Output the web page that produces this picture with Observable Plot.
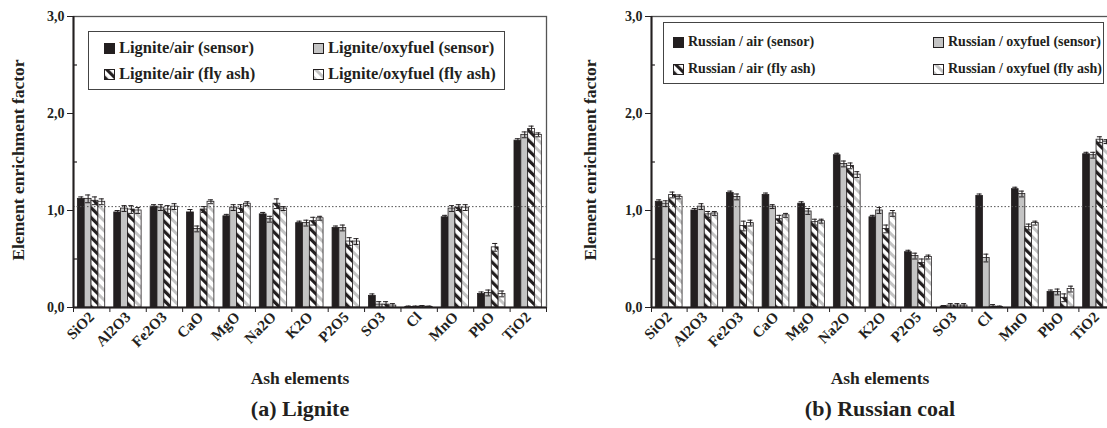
<!DOCTYPE html>
<html><head><meta charset="utf-8">
<script src="https://cdn.jsdelivr.net/npm/d3@7"></script>
<script src="https://cdn.jsdelivr.net/npm/@observablehq/plot@0.6"></script>
<style>
html,body{margin:0;padding:0;background:#fff;}
body{width:1107px;height:428px;overflow:hidden;position:relative;font-family:"Liberation Serif","Times New Roman",serif;font-weight:bold;color:#231f20;}
.panel{position:absolute;top:0;}
.panel svg{max-width:none !important;}
.ylab{position:absolute;font-size:17.5px;white-space:nowrap;transform:translate(-50%,-50%) rotate(-90deg);}
.xlab{position:absolute;font-size:17.5px;white-space:nowrap;transform:translate(-50%,-50%);}
.cap{position:absolute;font-size:22px;white-space:nowrap;transform:translate(-50%,-50%);}
.legend{position:absolute;border:1.3px solid #444;background:#fff;box-sizing:border-box;}
.item{position:absolute;white-space:nowrap;display:flex;align-items:center;transform:translateY(-50%);}
.item svg{margin-right:4px;}
</style></head><body>
<svg width="0" height="0" style="position:absolute">
<defs>
<pattern id="hatchBlack" patternUnits="userSpaceOnUse" width="7" height="7" patternTransform="rotate(-45)">
<rect width="7" height="7" fill="#fff"/><rect width="3.2" height="7" fill="#231f20"/>
</pattern>
<pattern id="hatchGray" patternUnits="userSpaceOnUse" width="7" height="7" patternTransform="rotate(-45)">
<rect width="7" height="7" fill="#fff"/><rect width="3" height="7" fill="#c4c4c4"/>
</pattern>
</defs></svg>
<script>
// ---------- data ----------
const categories = ["SiO2","Al2O3","Fe2O3","CaO","MgO","Na2O","K2O","P2O5","SO3","Cl","MnO","PbO","TiO2"];
const yTicks = [0, 1, 2, 3];
const minorTicks = [0.5, 1.5, 2.5];
const referenceLevel = [1.04];

const ligniteLabels = ["Lignite/air (sensor)", "Lignite/oxyfuel (sensor)", "Lignite/air (fly ash)", "Lignite/oxyfuel (fly ash)"];
const ligAirSensor = [1.12,0.98,1.04,0.98,0.94,0.96,0.87,0.82,0.12,0.005,0.93,0.14,1.72];
const ligOxySensor = [1.12,1.02,1.03,0.81,1.03,0.91,0.87,0.82,0.03,0.005,1.02,0.15,1.78];
const ligAirAsh    = [1.10,1.01,1.01,1.01,1.02,1.07,0.89,0.68,0.03,0.01,1.03,0.62,1.84];
const ligOxyAsh    = [1.09,1.00,1.04,1.09,1.07,1.02,0.92,0.68,0.02,0.005,1.03,0.14,1.78];
const ligAirSensorErr = [0.02,0.02,0.02,0.03,0.02,0.02,0.02,0.02,0.02,0.01,0.02,0.02,0.02];
const ligOxySensorErr = [0.04,0.03,0.03,0.03,0.03,0.03,0.03,0.03,0.03,0.01,0.03,0.03,0.03];
const ligAirAshErr    = [0.04,0.04,0.04,0.03,0.04,0.05,0.04,0.04,0.03,0.01,0.03,0.04,0.03];
const ligOxyAshErr    = [0.03,0.03,0.03,0.02,0.02,0.02,0.02,0.03,0.02,0.01,0.03,0.03,0.02];

const russianLabels = ["Russian / air (sensor)", "Russian / oxyfuel (sensor)", "Russian / air (fly ash)", "Russian / oxyfuel (fly ash)"];
const rusAirSensor = [1.09,1.00,1.18,1.16,1.07,1.57,0.93,0.57,0.01,1.15,1.22,0.16,1.58];
const rusOxySensor = [1.07,1.04,1.14,1.04,0.99,1.48,1.00,0.53,0.02,0.51,1.17,0.16,1.57];
const rusAirAsh    = [1.16,0.96,0.84,0.91,0.88,1.46,0.81,0.46,0.02,0.01,0.83,0.10,1.73];
const rusOxyAsh    = [1.14,0.97,0.87,0.95,0.89,1.37,0.97,0.52,0.02,0.005,0.87,0.19,1.71];
const rusAirSensorErr = [0.02,0.02,0.02,0.02,0.02,0.02,0.02,0.02,0.01,0.02,0.02,0.02,0.02];
const rusOxySensorErr = [0.03,0.03,0.03,0.02,0.03,0.03,0.03,0.03,0.02,0.04,0.03,0.03,0.03];
const rusAirAshErr    = [0.03,0.03,0.05,0.04,0.03,0.03,0.04,0.04,0.02,0.02,0.03,0.04,0.03];
const rusOxyAshErr    = [0.02,0.02,0.03,0.02,0.02,0.03,0.03,0.02,0.02,0.01,0.02,0.03,0.02];

// ---------- styling ----------
const INK = "#231f20";
const fills = [INK, "#c4c4c4", "url(#hatchBlack)", "url(#hatchGray)"];
const OFF = 0.12, BW = 0.188, CAP = 0.07;

function makeChart(values, errors, opts) {
  const rows = [];
  values.forEach((arr, j) => arr.forEach((v, i) => rows.push({i, j, v, e: errors[j][i]})));
  const x1 = d => d.i + OFF + d.j * BW;
  const x2 = d => d.i + OFF + (d.j + 1) * BW;
  const xc = d => d.i + OFF + (d.j + 0.5) * BW;
  return Plot.plot({
    width: opts.width, height: 390,
    marginLeft: opts.marginLeft, marginRight: opts.marginRight, marginTop: 16, marginBottom: 83,
    style: {fontFamily: '"Liberation Serif", serif', fontWeight: "bold", color: INK, background: "transparent", overflow: "visible", maxWidth: "none"},
    x: {domain: [0, 13]},
    y: {domain: [0, 3]},
    marks: [
      Plot.frame({stroke: "#555", strokeWidth: 1.3}),
      ...[0,1,2,3].map(j => Plot.rect(rows.filter(d => d.j === j), {x1, x2, y1: 0, y2: "v", fill: fills[j], stroke: INK, strokeWidth: 0.8})),
      Plot.ruleY(referenceLevel, {stroke: "#555", strokeDasharray: "1.5,2", strokeWidth: 1}),
      Plot.ruleX(rows, {x: xc, y1: d => d.v - d.e, y2: d => d.v + d.e, stroke: INK, strokeWidth: 1}),
      Plot.ruleY(rows, {y: d => d.v + d.e, x1: d => xc(d) - CAP, x2: d => xc(d) + CAP, stroke: INK, strokeWidth: 1}),
      Plot.ruleY(rows, {y: d => Math.max(0, d.v - d.e), x1: d => xc(d) - CAP, x2: d => xc(d) + CAP, stroke: INK, strokeWidth: 1}),
      Plot.axisY({ticks: yTicks, tickFormat: d => d.toFixed(1).replace(".", ","), tickSize: 6, tickPadding: 3, fontSize: 14, label: null, stroke: INK}),
      Plot.ruleY(minorTicks, {x1: 0, x2: 0.11, stroke: INK, strokeWidth: 1.2}),
      Plot.axisX({ticks: d3.range(14), tickFormat: () => "", tickSize: 5, label: null, stroke: INK}),
      Plot.axisX({ticks: d3.range(13).map(i => i + 0.5), tickFormat: d => categories[Math.floor(d)], tickSize: 0, tickPadding: 7, tickRotate: -45, fontSize: 15, label: null}),
      Plot.ruleX([0], {stroke: INK, strokeWidth: 2}),
      Plot.ruleY([0], {stroke: INK, strokeWidth: 2})
    ]
  });
}

function swatch(fill) {
  return `<svg width="11" height="11"><rect x="0.5" y="0.5" width="10" height="10" fill="${fill}" stroke="${INK}" stroke-width="1"/></svg>`;
}

function addPanel(cfg) {
  const div = document.createElement("div");
  div.className = "panel";
  div.style.left = cfg.left + "px";
  div.style.width = cfg.width + "px";
  div.appendChild(makeChart(cfg.values, cfg.errors, cfg));
  document.body.appendChild(div);

  const lg = document.createElement("div");
  lg.className = "legend";
  Object.assign(lg.style, {left: cfg.legend.x + "px", top: cfg.legend.y + "px", width: cfg.legend.w + "px", height: cfg.legend.h + "px"});
  document.body.appendChild(lg);
  cfg.labels.forEach((lab, j) => {
    const it = document.createElement("div");
    it.className = "item";
    it.style.fontSize = cfg.legend.fontSize + "px";
    it.style.left = (cfg.legend.cols[j % 2]) + "px";
    it.style.top = (cfg.legend.rows[Math.floor(j / 2)]) + "px";
    it.innerHTML = swatch(fills[j]) + "<span>" + lab + "</span>";
    document.body.appendChild(it);
  });

  const yl = document.createElement("div");
  yl.className = "ylab"; yl.textContent = "Element enrichment factor";
  yl.style.left = cfg.ylabX + "px"; yl.style.top = "160px";
  document.body.appendChild(yl);

  const xl = document.createElement("div");
  xl.className = "xlab"; xl.textContent = "Ash elements";
  xl.style.left = cfg.centerX + "px"; xl.style.top = "378px";
  document.body.appendChild(xl);

  const cp = document.createElement("div");
  cp.className = "cap"; cp.textContent = cfg.caption;
  cp.style.left = cfg.centerX + "px"; cp.style.top = "409px";
  document.body.appendChild(cp);
}

addPanel({
  left: 0, width: 553, marginLeft: 73, marginRight: 7,
  values: [ligAirSensor, ligOxySensor, ligAirAsh, ligOxyAsh],
  errors: [ligAirSensorErr, ligOxySensorErr, ligAirAshErr, ligOxyAshErr],
  labels: ligniteLabels,
  legend: {x: 88, y: 31, w: 417, h: 59, cols: [104, 313], rows: [48, 74], fontSize: 16.5},
  ylabX: 18, centerX: 300, caption: "(a) Lignite"
});
addPanel({
  left: 556, width: 560, marginLeft: 95, marginRight: 2,
  values: [rusAirSensor, rusOxySensor, rusAirAsh, rusOxyAsh],
  errors: [rusAirSensorErr, rusOxySensorErr, rusAirAshErr, rusOxyAshErr],
  labels: russianLabels,
  legend: {x: 663, y: 22, w: 441, h: 62, cols: [673, 933], rows: [42, 69], fontSize: 14},
  ylabX: 590, centerX: 880, caption: "(b) Russian coal"
});
</script>
</body></html>
